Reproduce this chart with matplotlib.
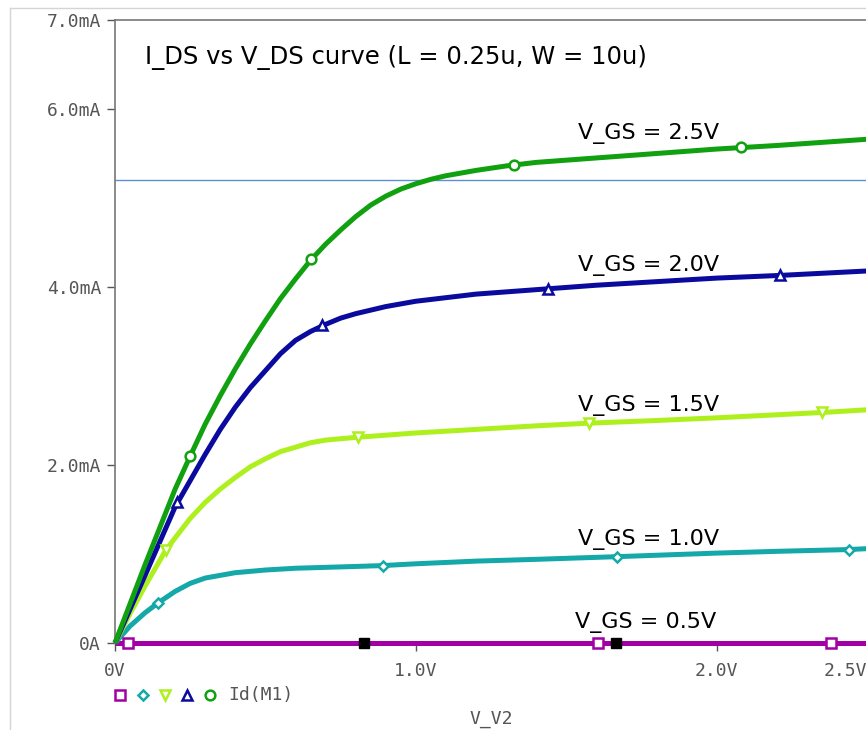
import numpy as np
import matplotlib
matplotlib.use('Agg')
import matplotlib.pyplot as plt
from matplotlib.lines import Line2D

# V_DS sweep (V) and drain current (mA)
vds_25 = [0, 0.1, 0.2, 0.25, 0.3, 0.35, 0.4, 0.45, 0.5, 0.55, 0.6, 0.65, 0.7, 0.75, 0.8, 0.85, 0.9, 0.95,
          1.0, 1.05, 1.1, 1.2, 1.3, 1.4, 1.6, 1.8, 2.0, 2.2, 2.5]
id_25 = [0, 0.88, 1.73, 2.10, 2.46, 2.78, 3.08, 3.36, 3.62, 3.87, 4.09, 4.30, 4.48, 4.64, 4.79, 4.92, 5.02, 5.10,
         5.16, 5.21, 5.25, 5.31, 5.36, 5.40, 5.45, 5.50, 5.55, 5.59, 5.66]

vds_20 = [0, 0.1, 0.2, 0.3, 0.35, 0.4, 0.45, 0.5, 0.55, 0.6, 0.65, 0.7, 0.75, 0.8, 0.9, 1.0, 1.2, 1.44, 1.6,
          1.8, 2.0, 2.21, 2.5]
id_20 = [0, 0.76, 1.53, 2.12, 2.40, 2.65, 2.87, 3.06, 3.25, 3.40, 3.50, 3.58, 3.65, 3.70, 3.78, 3.84, 3.92, 3.98, 4.02,
         4.06, 4.10, 4.13, 4.18]

vds_15 = [0, 0.05, 0.1, 0.17, 0.25, 0.3, 0.35, 0.4, 0.45, 0.5, 0.55, 0.6, 0.65, 0.7, 0.8, 1.0, 1.2, 1.4, 1.575,
          1.8, 2.0, 2.35, 2.5]
id_15 = [0, 0.33, 0.64, 1.05, 1.40, 1.58, 1.73, 1.86, 1.98, 2.07, 2.15, 2.20, 2.25, 2.28, 2.31, 2.36, 2.40, 2.44, 2.47,
         2.50, 2.53, 2.59, 2.62]

vds_10 = [0, 0.05, 0.1, 0.143, 0.2, 0.25, 0.3, 0.35, 0.4, 0.5, 0.6, 0.7, 0.8, 0.89, 1.0, 1.2, 1.4, 1.668, 2.0,
          2.2, 2.44, 2.5]
id_10 = [0, 0.19, 0.34, 0.45, 0.58, 0.67, 0.73, 0.76, 0.79, 0.82, 0.84, 0.85, 0.86, 0.87, 0.89, 0.92, 0.94, 0.97, 1.01,
         1.03, 1.05, 1.06]

vds_05 = [0, 2.5]
id_05 = [0, 0]

# symbol positions on each trace
mk_x_05 = [0.043, 1.605, 2.38]
mk_y_05 = [0, 0, 0]
mk_x_10 = [0.143, 0.89, 1.668, 2.44]
mk_y_10 = [0.45, 0.87, 0.97, 1.05]
mk_x_15 = [0.17, 0.807, 1.575, 2.35]
mk_y_15 = [1.05, 2.31, 2.47, 2.59]
mk_x_20 = [0.206, 0.688, 1.44, 2.21]
mk_y_20 = [1.58, 3.57, 3.98, 4.13]
mk_x_25 = [0.249, 0.651, 1.326, 2.08]
mk_y_25 = [2.10, 4.31, 5.37, 5.57]

cursor_x = [0.827, 1.665]
cursor_y = [0, 0]
hline_ma = 5.2

labels = ['V_GS = 2.5V', 'V_GS = 2.0V', 'V_GS = 1.5V', 'V_GS = 1.0V', 'V_GS = 0.5V']
label_x = [1.54, 1.54, 1.54, 1.54, 1.53]
label_y = [5.73, 4.24, 2.67, 1.16, 0.23]

xticks = [0, 1.0, 2.0, 2.5]
xticklabels = ['0V', '1.0V', '2.0V', '2.5V']
yticks = [0, 2, 4, 6, 7]
yticklabels = ['0A', '2.0mA', '4.0mA', '6.0mA', '7.0mA']

c_pur = '#a000a4'
c_cyn = '#14a8a8'
c_lgr = '#adf01e'
c_blu = '#0a0a9e'
c_grn = '#10a010'
gray = '#555555'
mono = 'DejaVu Sans Mono'

fig = plt.figure(figsize=(8.66, 7.30), dpi=100)
ax = fig.add_axes([115 / 866, 87 / 730, 752 / 866, 623 / 730])

lw = 3.6
ms = 7
series = [
    (vds_05, id_05, mk_x_05, mk_y_05, c_pur, 's'),
    (vds_10, id_10, mk_x_10, mk_y_10, c_cyn, 'D'),
    (vds_15, id_15, mk_x_15, mk_y_15, c_lgr, 'v'),
    (vds_20, id_20, mk_x_20, mk_y_20, c_blu, '^'),
    (vds_25, id_25, mk_x_25, mk_y_25, c_grn, 'o'),
]
ax.axhline(hline_ma, color='#5b8fd6', lw=1, zorder=1)
for x, y, mx, my, col, m in series:
    ax.plot(x, y, color=col, lw=lw, solid_capstyle='butt', solid_joinstyle='round', zorder=3, clip_on=False)
    msz = ms - 1.5 if m == 'D' else ms
    ax.plot(mx, my, ls='none', marker=m, ms=msz, mfc='white', mec=col, mew=1.8, zorder=4, clip_on=False)
# cursor marks on the bottom trace
ax.plot(cursor_x, cursor_y, ls='none', marker='s', ms=7, color='black', zorder=6, clip_on=False)

for t, x, y in zip(labels, label_x, label_y):
    ax.text(x, y, t, fontsize=16, color='black', va='center', ha='left')
ax.text(0.04, 0.94, 'I_DS vs V_DS curve (L = 0.25u, W = 10u)', transform=ax.transAxes,
        fontsize=17.5, color='black', va='center', ha='left')

ax.set_xlim(0, 2.5)
ax.set_ylim(0, 7)
ax.set_xticks(xticks)
ax.set_xticklabels(xticklabels)
ax.set_yticks(yticks)
ax.set_yticklabels(yticklabels)
for lab in ax.get_xticklabels() + ax.get_yticklabels():
    lab.set_fontfamily(mono)
    lab.set_fontsize(13)
    lab.set_color(gray)
ax.get_xticklabels()[-1].set_ha('right')
ax.tick_params(axis='both', direction='out', length=6, width=1, color=gray, pad=4)
ax.tick_params(axis='x', pad=8)
for s in ['left', 'top', 'bottom']:
    ax.spines[s].set_color('#777777')
    ax.spines[s].set_linewidth(1.2)
ax.spines['right'].set_visible(False)

ax.set_xlabel('V_V2', fontfamily=mono, fontsize=13, color=gray)
ax.xaxis.set_label_coords(0.5, -0.108)

# legend row of symbols under the axis
leg_x = [0.0066, 0.037, 0.066, 0.096, 0.126]
for lx, (_, _, _, _, col, m) in zip(leg_x, series):
    msz = ms - 1.5 if m == 'D' else ms
    ax.plot([lx], [-0.0835], transform=ax.transAxes, ls='none', marker=m, ms=msz,
            mfc='white', mec=col, mew=1.8, clip_on=False)
ax.text(0.150, -0.0835, 'Id(M1)', transform=ax.transAxes, fontfamily=mono, fontsize=13,
        color=gray, va='center', ha='left')

# outer frame of the screenshot
fig.add_artist(Line2D([10 / 866, 10 / 866], [0, 1 - 8 / 730], color='#d5d5d5', lw=1))
fig.add_artist(Line2D([10 / 866, 1], [1 - 8 / 730, 1 - 8 / 730], color='#d5d5d5', lw=1))

fig.savefig('out.png', dpi=100)
